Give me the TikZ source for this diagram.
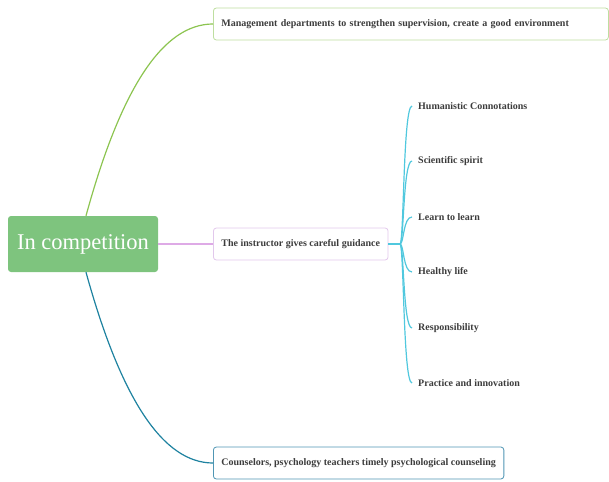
\documentclass[tikz,border=0pt]{standalone}
\usepackage{fontspec,xcolor}
\setmainfont{Liberation Serif}
\usetikzlibrary{positioning}
\definecolor{rootgreen}{RGB}{126,196,126}
\definecolor{lime}{RGB}{140,196,80}
\definecolor{limeedge}{RGB}{190,222,160}
\definecolor{lilac}{RGB}{222,170,230}
\definecolor{lilacedge}{RGB}{226,200,236}
\definecolor{aqua}{RGB}{80,200,222}
\definecolor{sea}{RGB}{30,130,160}
\definecolor{seaedge}{RGB}{80,150,180}
\definecolor{ink}{RGB}{60,60,60}
\begin{document}
\begin{tikzpicture}[x=1pt,y=-1pt,
 topic/.style={draw,rounded corners=3pt,line width=0.8pt,fill=white,font=\fontsize{10}{12}\selectfont\bfseries,text=ink,
  inner xsep=8pt,minimum height=32pt,anchor=west,align=left},
 leaf/.style={font=\fontsize{10}{12}\selectfont\bfseries,text=ink,inner xsep=6pt,inner ysep=2pt,anchor=west},
 branch/.style={line width=1.2pt}]
\useasboundingbox (0,0) rectangle (609,481);
\node[fill=rootgreen,rounded corners=3pt,minimum width=150pt,minimum height=56pt,text=white,
 font=\fontsize{22.5}{26}\selectfont] (root) at (83,244) {In competition};
\node[topic,draw=limeedge,text width=379pt] (mgmt) at (213,24) {Management departments to strengthen supervision, create a good environment};
\node[topic,draw=lilacedge] (guide) at (213,244) {The instructor gives careful guidance};
\node[topic,draw=seaedge] (couns) at (213,463) {Counselors, psychology teachers timely psychological counseling};
% children of the guidance topic
\node[leaf] (c1) at (412,106) {Humanistic Connotations};
\node[leaf] (c2) at (412,161) {Scientific spirit};
\node[leaf] (c3) at (412,217) {Learn to learn};
\node[leaf] (c4) at (412,272) {Healthy life};
\node[leaf] (c5) at (412,328) {Responsibility};
\node[leaf] (c6) at (412,383) {Practice and innovation};
\coordinate (fork) at (400,244);
% connectors
\draw[branch,lime] ([xshift=3pt]root.north) .. controls (121,88) and (163,24) .. (mgmt.west);
\draw[branch,lilac] (root.east) -- (guide.west);
\draw[branch,sea] ([xshift=3pt]root.south) .. controls (121,399) and (163,463) .. (couns.west);
\draw[branch,aqua] (guide.east) -- (fork);
\foreach \c in {c1,c2,c3,c4,c5,c6}
  \draw[branch,aqua] (fork) .. controls (404,244) and ([xshift=-9pt]\c.west) .. (\c.west);
\end{tikzpicture}
\end{document}
